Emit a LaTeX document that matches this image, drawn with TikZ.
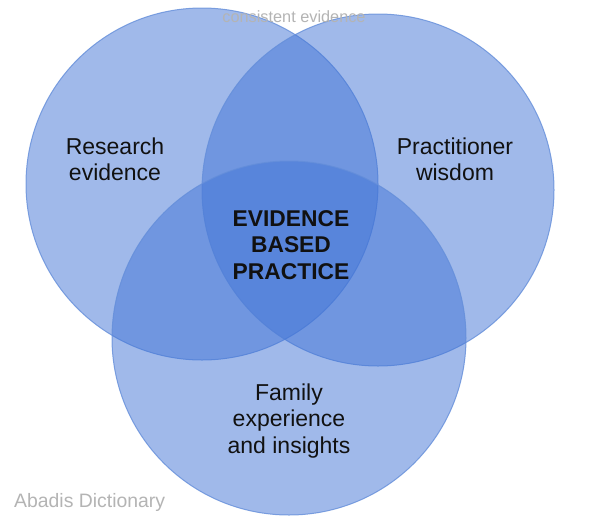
\documentclass[tikz,border=0pt]{standalone}
\usepackage{fontspec}
\setmainfont{Liberation Sans}
\begin{document}
\begin{tikzpicture}[x=1pt,y=-1pt,
  setcircle/.style={draw={rgb,255:red,100;green,142;blue,218}, line width=1pt,
    fill={rgb,255:red,66;green,117;blue,215}, fill opacity=0.5, draw opacity=0.8},
  lbl/.style={text={rgb,255:red,17;green,17;blue,17}, align=center,
    font=\fontsize{23}{26.3}\selectfont, inner sep=0pt},
  wmtext/.style={text={rgb,255:red,180;green,180;blue,180}, inner sep=0pt}]
\useasboundingbox (0,0) rectangle (589,520);
\fill[white] (0,0) rectangle (589,520);
\path[setcircle] (202,184) circle (176);
\path[setcircle] (378,190) circle (176);
\path[setcircle] (289,338) circle (177);
\node[lbl] (research) at (115,159) {Research\\evidence};
\node[lbl] (practitioner) at (455,159) {Practitioner\\wisdom};
\node[lbl, font=\bfseries\fontsize{22.8}{26.3}\selectfont] (ebp) at (291,245) {EVIDENCE\\BASED\\PRACTICE};
\node[lbl] (family) at (289,421) {Family\\experience\\and insights};
\node[wmtext, font=\fontsize{16.3}{18}\selectfont] (top) at (294,17) {consistent evidence};
\node[wmtext, anchor=west, font=\fontsize{19.4}{22}\selectfont] (wm) at (14,502) {Abadis Dictionary};
\end{tikzpicture}
\end{document}
